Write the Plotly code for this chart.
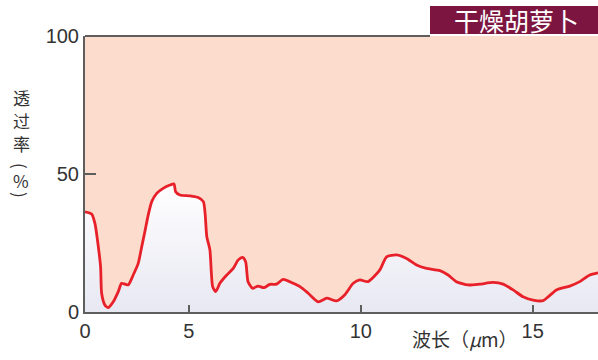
import plotly.graph_objects as go

# wavelength (µm, as labelled on the axis) and transmittance (%)
wavelength = [0.00, 0.32, 0.48, 0.64, 0.75, 0.80, 0.96, 1.12, 1.36, 1.60, 1.76, 1.92, 2.08,
              2.32, 2.56, 2.73, 2.88, 3.04, 3.21, 3.45, 3.76, 4.09, 4.28, 4.36, 4.57,
              5.03, 5.27, 5.42, 5.47, 5.52, 5.61, 5.69, 5.78, 5.90, 6.10, 6.29, 6.43,
              6.56, 6.65, 6.72, 6.85, 7.01, 7.18, 7.35, 7.55, 7.74, 8.03, 8.23, 8.47,
              8.76, 9.01, 9.29, 9.53, 9.78, 9.97, 10.21, 10.55, 10.75, 11.04, 11.33,
              11.62, 11.91, 12.30, 12.54, 12.78, 13.12, 13.46, 13.85, 14.14, 14.43,
              14.72, 15.01, 15.30, 15.45, 15.69, 16.08, 16.37, 16.66, 16.90]
transmittance = [36.3, 35.5, 32.0, 23.7, 16.4, 6.8, 2.5, 1.6, 3.7, 7.4, 10.4, 10.1, 9.8,
                 13.4, 17.6, 23.7, 29.1, 35.1, 40.0, 43.0, 44.8, 46.0, 46.4, 43.6, 42.4,
                 42.1, 41.5, 40.0, 35.8, 27.3, 22.5, 9.2, 7.4, 10.4, 13.4, 15.8, 18.8,
                 19.8, 18.2, 11.0, 8.6, 9.4, 8.8, 10.0, 10.1, 11.8, 10.4, 9.2, 6.8,
                 3.7, 5.0, 4.0, 6.2, 10.4, 11.6, 11.0, 15.2, 20.0, 20.7, 19.4,
                 17.0, 15.8, 15.0, 13.4, 11.0, 9.8, 10.1, 10.7, 10.1, 8.0,
                 5.5, 4.3, 4.1, 5.5, 8.0, 9.4, 11.0, 13.4, 14.2]

x_ticks = [0, 5, 10, 15]
x_tick_labels = ["0", "5", "10", "15"]
y_ticks = [0, 50, 100]
y_tick_labels = ["0", "50", "100"]
title_text = "干燥胡萝卜"
y_title_chars = ["透", "过", "率", "(", "%", ")"]
x_title = "波长（<i>μ</i>m）"

# the reference axis is compressed between 0 and 5
K = 20.8 / 34.4
def axis_map(v):
    return v if v >= 5 else 5 - (5 - v) * K

xm = [axis_map(v) for v in wavelength]
xt = [axis_map(v) for v in x_ticks]

W, H = 598, 360
L, R, T, B = 85, 0, 36, 48
PW, PH = W - L - R, H - T - B
def px(x):
    return (x - L) / PW
def py(y):
    return (H - B - y) / PH

fig = go.Figure()
fig.add_trace(go.Scatter(
    x=xm, y=transmittance, mode="lines", line=dict(color="#E8202A", width=2.8, shape="spline", smoothing=0.6),
    fill="tozeroy",
    fillgradient=dict(type="vertical", colorscale=[[0, "#E8E8F3"], [1, "#FFFFFF"]], start=0, stop=48),
    hoverinfo="skip", showlegend=False))

axis_col = "#5E5E5E"
font_fam = "Liberation Sans, Arial, sans-serif"
fig.update_layout(
    width=W, height=H, margin=dict(l=L, r=R, t=T, b=B),
    paper_bgcolor="white", plot_bgcolor="#FCDCCC",
    font=dict(family=font_fam, color="#333333", size=20),
    xaxis=dict(range=[axis_map(0), axis_map(16.90)], tickvals=xt, ticktext=x_tick_labels,
               showgrid=False, zeroline=False, showline=True, linecolor=axis_col, linewidth=2,
               ticks="inside", ticklen=7, tickwidth=1.5, tickcolor=axis_col,
               tickfont=dict(size=20, color="#333333")),
    yaxis=dict(range=[0, 100], tickvals=y_ticks, ticktext=y_tick_labels,
               showgrid=False, zeroline=False, showline=True, linecolor=axis_col, linewidth=2,
               ticks="inside", ticklen=11, tickwidth=1.5, tickcolor=axis_col,
               tickfont=dict(size=20, color="#333333")),
)

# top border line (stops at the title box)
fig.add_shape(type="line", xref="paper", yref="paper", x0=0, x1=px(430), y0=1, y1=1,
              line=dict(color=axis_col, width=2))
# title box
fig.add_shape(type="rect", xref="paper", yref="paper", x0=px(430), x1=1.0, y0=py(34), y1=py(6),
              fillcolor="#7C1641", line=dict(width=0))
fig.add_annotation(xref="paper", yref="paper", x=px(516), y=py(20), text=title_text, showarrow=False,
                   font=dict(family="Noto Sans CJK SC", size=25, color="white"),
                   xanchor="center", yanchor="middle")

# vertical y title
ys = [97, 120, 143, 166, 180, 195]
angles = [0, 0, 0, 90, 0, 90]
for ch, yy, ang in zip(y_title_chars, ys, angles):
    fig.add_annotation(xref="paper", yref="paper", x=px(21), y=py(yy), text=ch, showarrow=False,
                       textangle=ang, borderpad=0,
                       font=dict(family="Noto Sans CJK SC", size=17, color="#333333"),
                       xanchor="center", yanchor="middle")

# x title
fig.add_annotation(xref="paper", yref="paper", x=px(465), y=py(338), text=x_title, showarrow=False,
                   font=dict(family="Noto Sans CJK SC", size=19, color="#333333"),
                   xanchor="center", yanchor="middle")

fig.write_html("out.html", config={"displayModeBar": False},
               post_script="document.body.style.margin='0';document.body.style.overflow='hidden';")
